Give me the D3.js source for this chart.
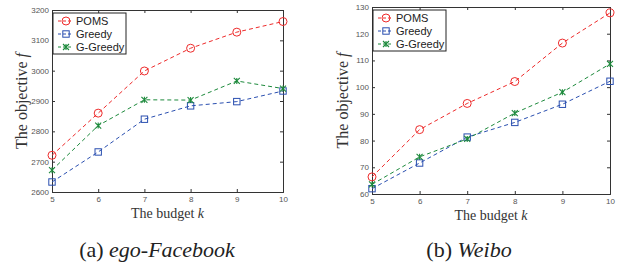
<!DOCTYPE html>
<html>
<head>
<meta charset="utf-8">
<script src="https://cdn.jsdelivr.net/npm/d3@7"></script>
<style>
  body { margin: 0; background: #fff; }
  svg { display: block; }
  .tick text { font-family: "Liberation Sans", Arial, sans-serif; fill: #555; }
</style>
</head>
<body>
<div id="chart"></div>
<script>
// budget k on the x axis
var budgets = [5, 6, 7, 8, 9, 10];

// (a) ego-Facebook
var fbPoms = [2721, 2860, 2999, 3074, 3127, 3162];
var fbGreedy = [2633, 2732, 2840, 2884, 2898, 2933];
var fbGGreedy = [2672, 2819, 2904, 2903, 2966, 2941];
var fbTicks = [2600, 2700, 2800, 2900, 3000, 3100, 3200];

// (b) Weibo
var wbPoms = [66.4, 84.1, 93.9, 102.1, 116.5, 127.8];
var wbGreedy = [62.0, 71.6, 81.3, 86.8, 93.6, 102.2];
var wbGGreedy = [63.6, 73.9, 80.6, 90.3, 98.1, 108.7];
var wbTicks = [60, 70, 80, 90, 100, 110, 120, 130];

var seriesNames = ["POMS", "Greedy", "G-Greedy"];
var colors = ["#ee2a2a", "#2a4fb0", "#1d8a3c"];

var serif = "'Liberation Serif', 'Times New Roman', serif";

var svg = d3.select("#chart").append("svg")
  .attr("width", 623)
  .attr("height", 263);

function drawMarker(g, kind, x, y, color) {
  if (kind === 0) {
    g.append("circle").attr("cx", x).attr("cy", y).attr("r", 4)
      .attr("fill", "none").attr("stroke", color).attr("stroke-width", 1);
  } else if (kind === 1) {
    g.append("rect").attr("x", x - 3.2).attr("y", y - 3.2)
      .attr("width", 6.4).attr("height", 6.4)
      .attr("fill", "none").attr("stroke", color).attr("stroke-width", 1);
  } else {
    var s = 3;
    g.append("path")
      .attr("d", `M${x - s},${y - s}L${x + s},${y + s}M${x - s},${y + s}L${x + s},${y - s}M${x},${y - s}L${x},${y + s}`)
      .attr("fill", "none").attr("stroke", color).attr("stroke-width", 1.1);
  }
}

function drawPanel(p) {
  var x = d3.scaleLinear().domain([5, 10]).range([p.left, p.right]);
  var y = d3.scaleLinear().domain([p.ticks[0], p.ticks[p.ticks.length - 1]]).range([p.bottom, p.top]);
  var g = svg.append("g");

  // box + axes (matlab style, ticks inside)
  g.append("g")
    .attr("transform", `translate(0,${p.bottom})`)
    .call(d3.axisBottom(x).tickValues(budgets).tickSize(-3).tickPadding(4).tickFormat(d3.format("d")))
    .call(a => a.selectAll("text").attr("font-size", 8));
  g.append("g")
    .attr("transform", `translate(${p.left},0)`)
    .call(d3.axisLeft(y).tickValues(p.ticks).tickSize(-3).tickPadding(3).tickFormat(d3.format("d")))
    .call(a => a.selectAll("text").attr("font-size", 8));
  g.append("g")
    .attr("transform", `translate(0,${p.top})`)
    .call(d3.axisTop(x).tickValues(budgets).tickSize(-3).tickFormat(""));
  g.append("g")
    .attr("transform", `translate(${p.right},0)`)
    .call(d3.axisRight(y).tickValues(p.ticks).tickSize(-3).tickFormat(""));
  g.selectAll(".domain").attr("stroke", "#333").attr("stroke-width", 1);
  g.selectAll(".tick line").attr("stroke", "#333");

  // series
  p.series.forEach(function(vals, i) {
    var line = d3.line().x((d, j) => x(budgets[j])).y(d => y(d));
    g.append("path")
      .datum(vals)
      .attr("d", line)
      .attr("fill", "none")
      .attr("stroke", colors[i])
      .attr("stroke-width", 1)
      .attr("stroke-dasharray", "4,3");
    vals.forEach(function(v, j) {
      drawMarker(g, i, x(budgets[j]), y(v), colors[i]);
    });
  });

  // legend
  var lg = g.append("g").attr("transform", `translate(${p.left + 1},${p.top + 3})`);
  lg.append("rect").attr("width", 73).attr("height", 41)
    .attr("fill", "#fff").attr("stroke", "#222").attr("stroke-width", 1);
  seriesNames.forEach(function(name, i) {
    var yy = 8 + i * 13;
    lg.append("line").attr("x1", 5).attr("x2", 19).attr("y1", yy).attr("y2", yy)
      .attr("stroke", colors[i]).attr("stroke-dasharray", "3,2");
    drawMarker(lg, i, 13, yy, colors[i]);
    lg.append("text").attr("x", 23).attr("y", yy + 4)
      .attr("font-family", "'Liberation Sans', Arial, sans-serif")
      .attr("font-size", 11).attr("fill", "#222")
      .text(name);
  });

  // axis titles
  var xt = g.append("text")
    .attr("font-family", serif).attr("fill", "#333")
    .attr("x", (p.left + p.right) / 2).attr("y", p.bottom + 26)
    .attr("text-anchor", "middle").attr("font-size", 14);
  xt.append("tspan").text("The budget ");
  xt.append("tspan").attr("font-style", "italic").text("k");

  var yt = g.append("text")
    .attr("font-family", serif).attr("fill", "#333")
    .attr("transform", `translate(${p.ylabelX},${(p.top + p.bottom) / 2}) rotate(-90)`)
    .attr("text-anchor", "middle").attr("font-size", 16);
  yt.append("tspan").text("The objective ");
  yt.append("tspan").attr("font-style", "italic").text("f");

  // caption
  var cap = g.append("text")
    .attr("font-family", serif).attr("fill", "#222")
    .attr("x", p.capX).attr("y", 257)
    .attr("text-anchor", "middle").attr("font-size", 22);
  cap.append("tspan").text(p.capA);
  cap.append("tspan").attr("font-style", "italic").text(p.capB);
}

drawPanel({
  left: 52, right: 283, top: 10, bottom: 192,
  ticks: fbTicks, series: [fbPoms, fbGreedy, fbGGreedy],
  ylabelX: 27, capX: 157, capA: "(a) ", capB: "ego-Facebook"
});

drawPanel({
  left: 372, right: 610, top: 7, bottom: 194,
  ticks: wbTicks, series: [wbPoms, wbGreedy, wbGGreedy],
  ylabelX: 348, capX: 469, capA: "(b) ", capB: "Weibo"
});
</script>
</body>
</html>
